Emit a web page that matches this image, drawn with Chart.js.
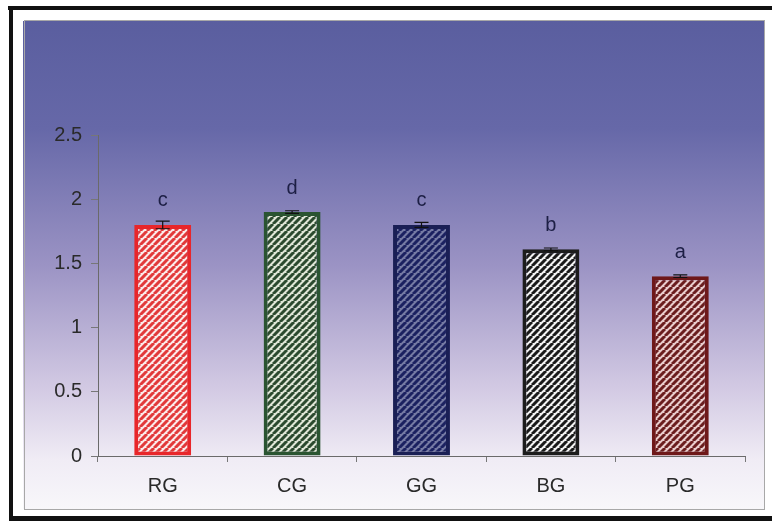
<!DOCTYPE html>
<html>
<head>
<meta charset="utf-8">
<script src="https://cdn.jsdelivr.net/npm/chart.js@4"></script>
<style>
  html, body { margin: 0; padding: 0; background: #fff; }
  #wrap { width: 772px; height: 521px; position: relative; }
</style>
</head>
<body>
<div id="wrap"><canvas id="chart" width="772" height="521"></canvas></div>
<script>
const categories = ['RG', 'CG', 'GG', 'BG', 'PG'];
const values = [1.80, 1.90, 1.80, 1.61, 1.40];
const errors = [0.03, 0.01, 0.02, 0.01, 0.01];
const letters = ['c', 'd', 'c', 'b', 'a'];
const yMax = 2.5;
const yStep = 0.5;

// stripe colour, background colour, border colour per bar
const stripeColors = ['#e2393a', '#2b4a2e', '#1b2160', '#1a1a1a', '#6b1d1e'];
const stripeBg     = ['#fbeaea', '#dfe6d6', '#757aa3', '#f2f2f2', '#e9cccc'];
const borderColors = ['#e8262a', '#2a5431', '#1a1f55', '#1c1c1c', '#6e1819'];

function hatch(fg, bg) {
  const s = 7;
  const c = document.createElement('canvas');
  c.width = s; c.height = s;
  const g = c.getContext('2d');
  g.fillStyle = bg;
  g.fillRect(0, 0, s, s);
  g.strokeStyle = fg;
  g.lineWidth = 3;
  g.beginPath();
  for (let k = -1; k <= 1; k++) {
    g.moveTo(k * s, s);
    g.lineTo(k * s + s, 0);
  }
  g.stroke();
  return g.createPattern(c, 'repeat');
}

const frame = {
  id: 'frame',
  beforeDraw(chart) {
    const ctx = chart.ctx;
    ctx.save();
    // gradient panel
    const grad = ctx.createLinearGradient(0, 21, 0, 509);
    grad.addColorStop(0, '#5a5e9f');
    grad.addColorStop(0.22, '#6668a8');
    grad.addColorStop(0.5, '#9b93c4');
    grad.addColorStop(0.75, '#d2c9e3');
    grad.addColorStop(0.9, '#f0ecf5');
    grad.addColorStop(1, '#f8f7fa');
    ctx.fillStyle = grad;
    ctx.fillRect(23, 21, 741, 488);
    ctx.strokeStyle = '#a8a8a8';
    ctx.lineWidth = 1;
    ctx.strokeRect(24.5, 20.5, 740, 489);
    // black outer frame
    ctx.fillStyle = '#111';
    ctx.fillRect(8, 6, 764, 4);
    ctx.fillRect(9, 6, 4, 515);
    ctx.fillRect(9, 516, 763, 5);
    ctx.restore();
  },
  afterDatasetsDraw(chart) {
    const ctx = chart.ctx;
    const xs = chart.scales.x, ys = chart.scales.y;
    ctx.save();
    ctx.strokeStyle = '#111';
    ctx.lineWidth = 1.2;
    values.forEach((v, i) => {
      const x = xs.getPixelForValue(i);
      const yTop = ys.getPixelForValue(v + errors[i]);
      const yBot = ys.getPixelForValue(v - errors[i]);
      ctx.beginPath();
      ctx.moveTo(x, yTop); ctx.lineTo(x, yBot);
      ctx.moveTo(x - 7, yTop); ctx.lineTo(x + 7, yTop);
      ctx.moveTo(x - 7, yBot); ctx.lineTo(x + 7, yBot);
      ctx.stroke();
    });
    ctx.fillStyle = '#1d1f45';
    ctx.font = '20px "Liberation Sans", Arial, sans-serif';
    ctx.textAlign = 'center';
    ctx.textBaseline = 'middle';
    letters.forEach((t, i) => {
      const x = xs.getPixelForValue(i);
      const y = ys.getPixelForValue(values[i]) - 24;
      ctx.fillText(t, x, y);
    });
    ctx.restore();
  }
};

const tickFont = { size: 20, family: '"Liberation Sans", Arial, sans-serif' };

new Chart(document.getElementById('chart').getContext('2d'), {
  type: 'bar',
  data: {
    labels: categories,
    datasets: [{
      data: values,
      backgroundColor: stripeColors.map((c, i) => hatch(c, stripeBg[i])),
      borderColor: borderColors,
      borderWidth: 4,
      borderSkipped: false,
      barPercentage: 0.44,
      categoryPercentage: 1
    }]
  },
  options: {
    responsive: false,
    animation: false,
    layout: { padding: { left: 30, top: 135, right: 27, bottom: 0 } },
    plugins: { legend: { display: false }, tooltip: { enabled: false } },
    scales: {
      x: {
        afterFit: s => { s.height = 65; },
        grid: { offset: true, drawOnChartArea: false, tickLength: 6, color: '#777' },
        border: { color: '#6a6a6a' },
        ticks: { font: tickFont, color: '#2a2a2a', padding: 12 }
      },
      y: {
        min: 0,
        max: yMax,
        afterFit: s => { s.width = 68; },
        grid: { drawOnChartArea: false, tickLength: 7, color: '#777' },
        border: { color: '#6a6a6a' },
        ticks: {
          stepSize: yStep, font: tickFont, color: '#2a2a2a', padding: 9,
          callback: v => String(v)
        }
      }
    }
  },
  plugins: [frame]
});
</script>
</body>
</html>
